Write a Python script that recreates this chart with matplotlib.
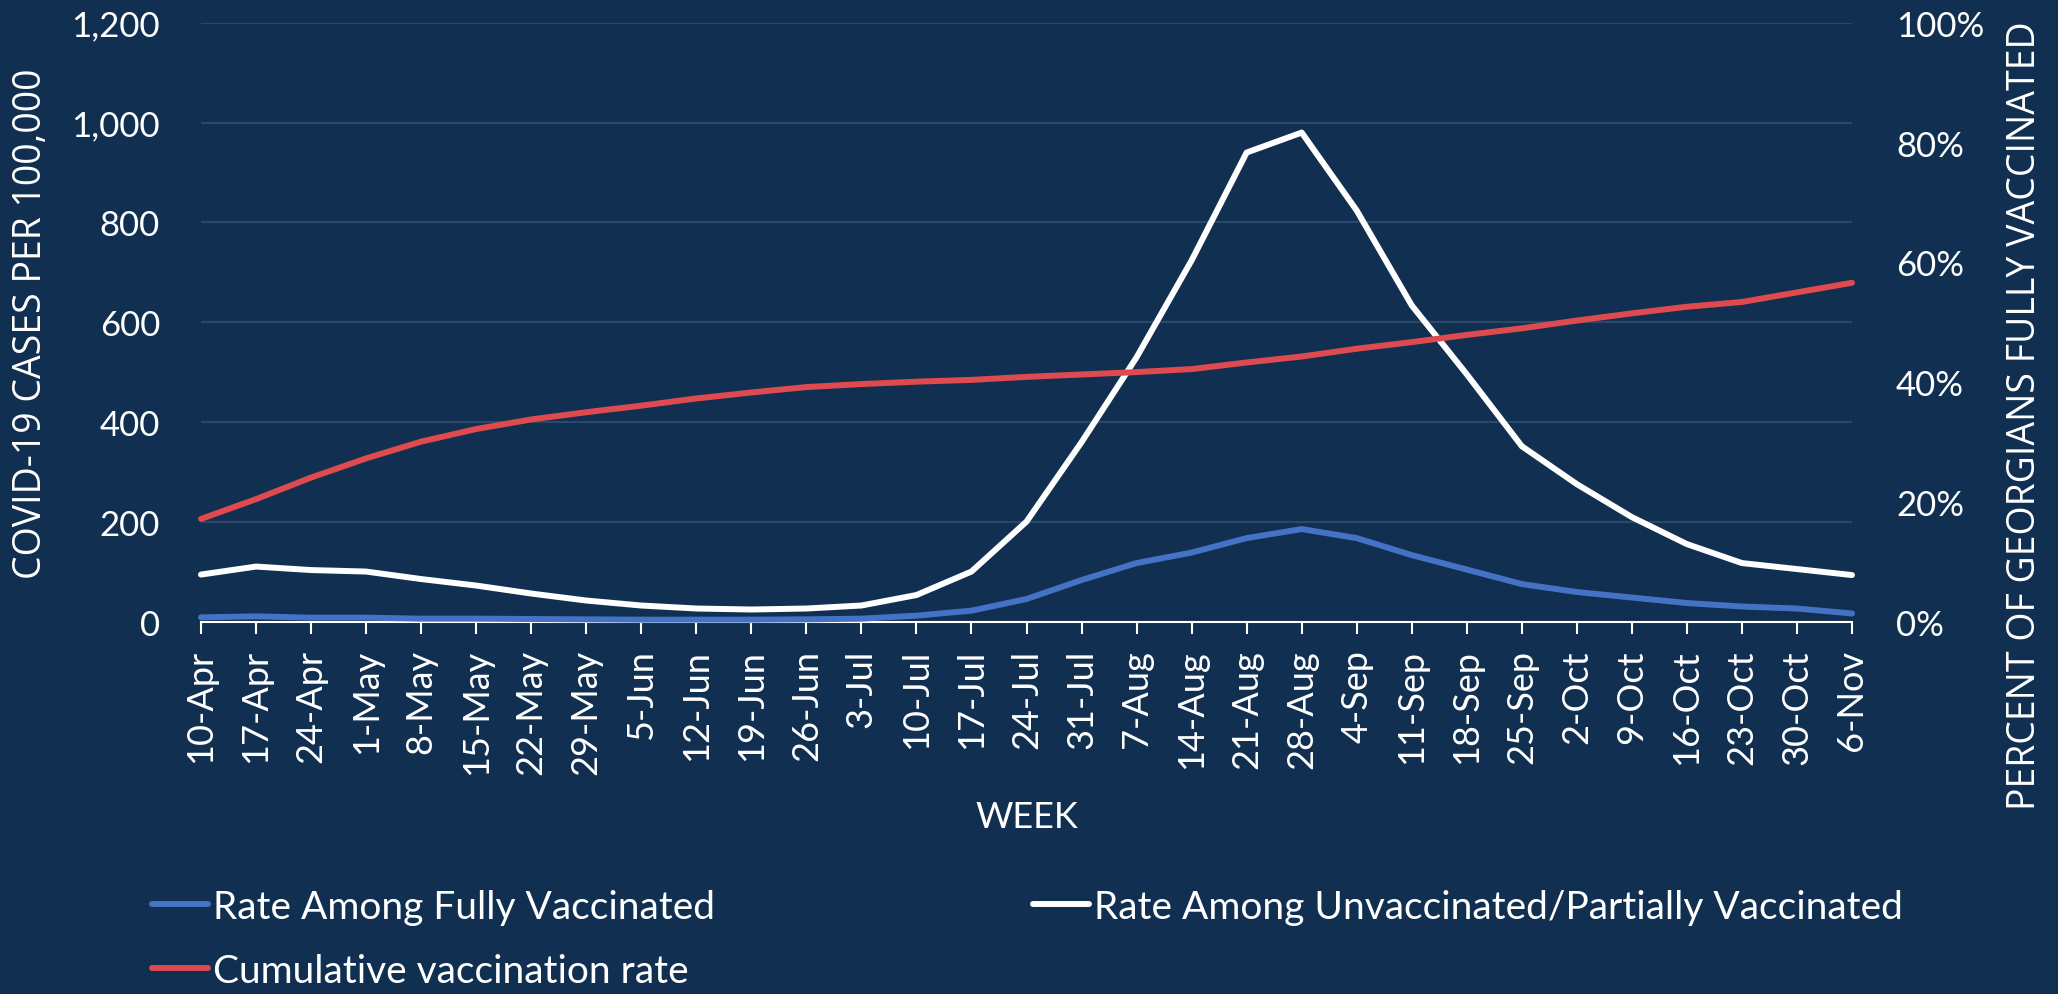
import matplotlib
matplotlib.use('Agg')
import matplotlib.pyplot as plt
from matplotlib.ticker import FuncFormatter

# ---- data ----
weeks = ['10-Apr', '17-Apr', '24-Apr', '1-May', '8-May', '15-May', '22-May', '29-May',
         '5-Jun', '12-Jun', '19-Jun', '26-Jun', '3-Jul', '10-Jul', '17-Jul', '24-Jul',
         '31-Jul', '7-Aug', '14-Aug', '21-Aug', '28-Aug', '4-Sep', '11-Sep', '18-Sep',
         '25-Sep', '2-Oct', '9-Oct', '16-Oct', '23-Oct', '30-Oct', '6-Nov']
rate_fully = [9.3, 11.3, 8.7, 8.7, 6.7, 6.7, 6.0, 5.3, 4.7, 4.7, 4.7, 5.3, 6.7, 12.7, 22.7,
              46, 84, 118, 139, 168, 186, 168, 134, 105, 76, 60, 49, 38, 31, 27, 17]
rate_unvax = [95, 111, 104, 101, 86, 73, 57, 43, 33, 27, 25, 27, 33, 54, 101,
              201, 360, 530, 724, 940, 980, 824, 634, 496, 352, 276, 210, 156, 118, 106, 94]
cum_vax_pct = [17.2, 20.5, 24.1, 27.3, 30.1, 32.2, 33.8, 35.0, 36.1, 37.3, 38.3, 39.2, 39.7,
               40.1, 40.4, 40.9, 41.3, 41.7, 42.2, 43.3, 44.3, 45.6, 46.7, 47.9, 49.0, 50.3,
               51.5, 52.6, 53.4, 55.0, 56.6]
left_ticks = [0, 200, 400, 600, 800, 1000, 1200]
right_ticks = [0, 20, 40, 60, 80, 100]

# ---- style ----
W, H = 2058, 995
BG = '#112F51'
GRID = '#2C4868'
BLUE = '#4472C4'
RED = '#DF4A4E'
WHITE = '#FFFFFF'
FONT = 'Lato'
TFONT = 'Open Sans'

fig = plt.figure(figsize=(W / 100, H / 100), dpi=100)
fig.patch.set_facecolor(BG)

x0, x1, ytop, ybot = 201, 1852, 23.7, 623
ax = fig.add_axes([x0 / W, 1 - ybot / H, (x1 - x0) / W, (ybot - ytop) / H])
ax.set_facecolor(BG)

xs = list(range(len(weeks)))
lw = 4.3
l_fully, = ax.plot(xs, rate_fully, color=BLUE, lw=lw, solid_capstyle='round',
                   solid_joinstyle='round', clip_on=False, zorder=3,
                   label='Rate Among Fully Vaccinated')
l_unvax, = ax.plot(xs, rate_unvax, color=WHITE, lw=lw, solid_capstyle='round',
                   solid_joinstyle='round', clip_on=False, zorder=3,
                   label='Rate Among Unvaccinated/Partially Vaccinated')

ax.set_xlim(0, len(weeks) - 1)
ax.set_ylim(0, 1200)
ax.set_yticks(left_ticks)
ax.yaxis.set_major_formatter(FuncFormatter(lambda v, p: f'{v:,.0f}'))
ax.yaxis.grid(True, color=GRID, lw=1.5)
ax.set_axisbelow(True)
for s in ['top', 'right', 'left']:
    ax.spines[s].set_visible(False)
ax.spines['bottom'].set_color(WHITE)
ax.spines['bottom'].set_linewidth(1.5)
ax.spines['bottom'].set_zorder(2)

ax.set_xticks(xs)
ax.set_xticklabels(weeks, rotation=90, fontsize=26, color=WHITE, fontfamily=FONT)
ax.tick_params(axis='x', length=8.6, width=1.5, color=WHITE, direction='out', pad=11)
ax.tick_params(axis='y', length=0, pad=29.5, labelsize=25, labelcolor=WHITE)
for t in ax.get_yticklabels():
    t.set_fontfamily(FONT)

ax.set_xlabel('WEEK', fontsize=26, color=WHITE, fontfamily=FONT)
ax.xaxis.set_label_coords(0.5, (ybot - 817.5) / (ybot - ytop))
ax.xaxis.label.set_va('center')
ax.set_ylabel('COVID-19 CASES PER 100,000', fontsize=27, color=WHITE, fontfamily=TFONT)
ax.yaxis.set_label_coords((31 - x0) / (x1 - x0), 0.5)
ax.yaxis.label.set_va('center')

ax2 = ax.twinx()
l_cum, = ax2.plot(xs, cum_vax_pct, color=RED, lw=lw, solid_capstyle='round',
                  solid_joinstyle='round', clip_on=False, zorder=3,
                  label='Cumulative vaccination rate')
ax2.set_ylim(0, 100)
ax2.set_yticks(right_ticks)
ax2.yaxis.set_major_formatter(FuncFormatter(lambda v, p: f'{v:.0f}%'))
for s in ax2.spines.values():
    s.set_visible(False)
ax2.tick_params(axis='y', length=0, pad=31.7, labelsize=25, labelcolor=WHITE)
for t in ax2.get_yticklabels():
    t.set_fontfamily(FONT)
ax2.set_ylabel('PERCENT OF GEORGIANS FULLY VACCINATED', fontsize=27, color=WHITE,
               fontfamily=TFONT, rotation=90)
ax2.yaxis.set_label_coords((2025 - x0) / (x1 - x0), (ybot - 415.5) / (ybot - ytop))
ax2.yaxis.label.set_va('center')
ax2.yaxis.label.set_ha('center')

leg_kw = dict(loc='upper left', frameon=False, prop={'family': FONT, 'size': 28},
              labelcolor=WHITE, handlelength=1.44, handletextpad=0.13,
              borderpad=0, borderaxespad=0, labelspacing=0.72)
fig.legend(handles=[l_fully, l_cum], bbox_to_anchor=(152 / W, 1 - 890 / H), **leg_kw)
fig.legend(handles=[l_unvax], bbox_to_anchor=(1033 / W, 1 - 890 / H), **leg_kw)

fig.savefig('out.png', dpi=100, facecolor=BG)
